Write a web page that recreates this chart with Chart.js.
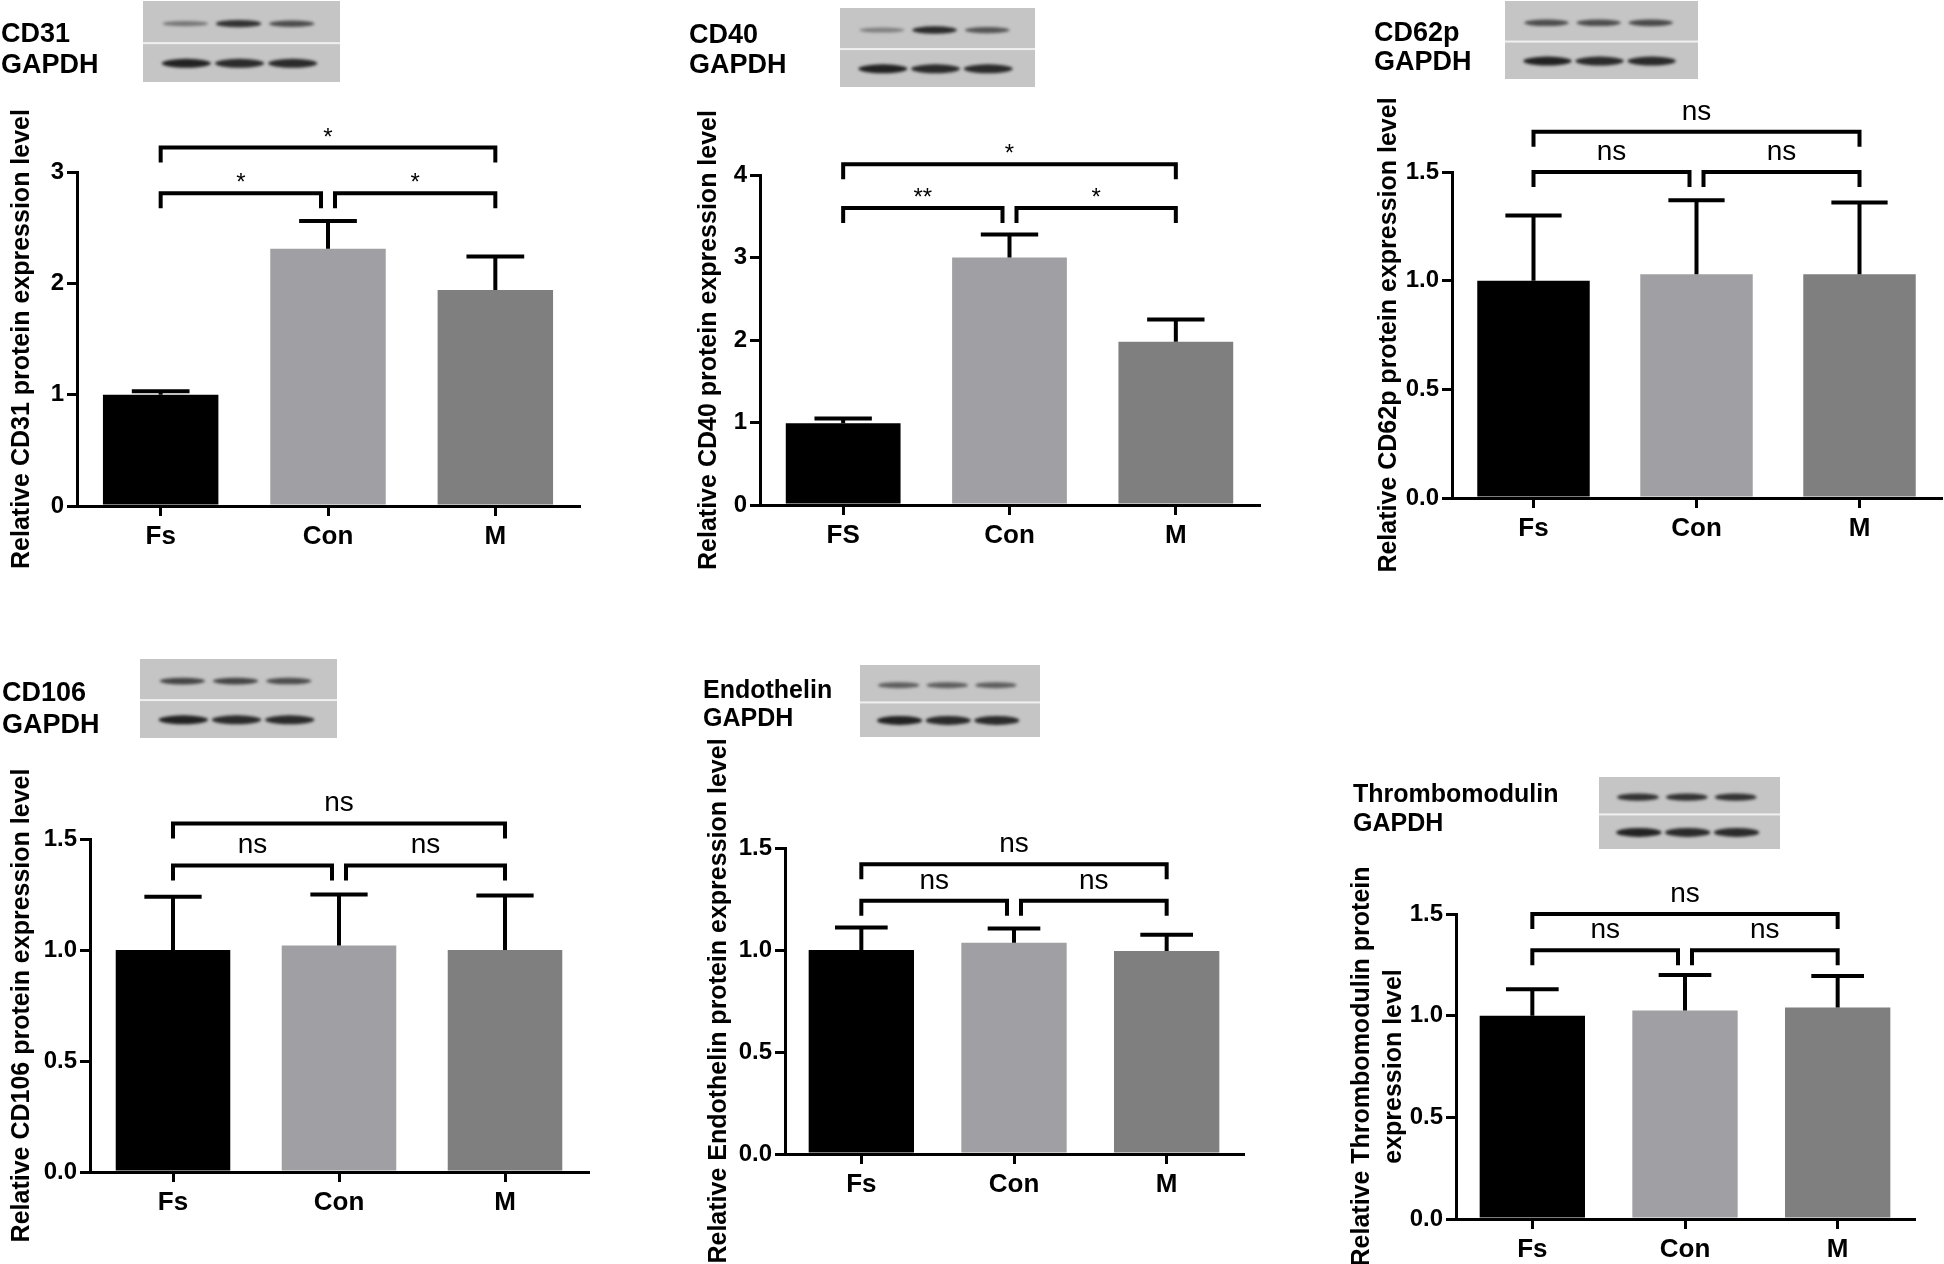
<!DOCTYPE html>
<html>
<head>
<meta charset="utf-8">
<script src="https://cdn.jsdelivr.net/npm/chart.js@4.4.1/dist/chart.umd.min.js"></script>
<style>
html, body { margin: 0; padding: 0; background: #fff; }
body { position: relative; width: 1944px; height: 1264px; overflow: hidden; }
canvas { position: absolute; }
</style>
</head>
<body>
<canvas id="c1" width="650" height="640" style="left:0px;top:0px"></canvas>
<canvas id="c2" width="640" height="640" style="left:660px;top:0px"></canvas>
<canvas id="c3" width="614" height="640" style="left:1330px;top:0px"></canvas>
<canvas id="c4" width="650" height="624" style="left:0px;top:640px"></canvas>
<canvas id="c5" width="640" height="624" style="left:660px;top:640px"></canvas>
<canvas id="c6" width="614" height="624" style="left:1330px;top:640px"></canvas>
<script>
// groups
const groups = ['Fs', 'Con', 'M'];
const groupsCd40 = ['FS', 'Con', 'M'];
const barColors = ['#000000', '#a0a0a4', '#7f7f7f'];

// mean + SEM (relative expression)
const cd31Mean = [1.00, 2.31, 1.94];
const cd31Sem = [0.03, 0.25, 0.30];
const cd40Mean = [0.99, 3.00, 1.98];
const cd40Sem = [0.06, 0.28, 0.27];
const cd62pMean = [1.00, 1.03, 1.03];
const cd62pSem = [0.30, 0.34, 0.33];
const cd106Mean = [1.00, 1.02, 1.00];
const cd106Sem = [0.24, 0.23, 0.245];
const endoMean = [1.00, 1.035, 0.995];
const endoSem = [0.11, 0.07, 0.08];
const thromboMean = [1.00, 1.025, 1.04];
const thromboSem = [0.13, 0.175, 0.155];

// y tick labels
const ticksInt3 = ['0', '1', '2', '3'];
const ticksInt4 = ['0', '1', '2', '3', '4'];
const ticksHalf = ['0.0', '0.5', '1.0', '1.5'];

// significance brackets: [from, to, level, label]
const cd31Sig = [[0, 2, 3.22, '*'], [0, 1, 2.81, '*'], [1, 2, 2.81, '*']];
const cd40Sig = [[0, 2, 4.13, '*'], [0, 1, 3.60, '**'], [1, 2, 3.60, '*']];
const cd62pSig = [[0, 2, 1.685, 'ns'], [0, 1, 1.50, 'ns'], [1, 2, 1.50, 'ns']];
const cd106Sig = [[0, 2, 1.57, 'ns'], [0, 1, 1.381, 'ns'], [1, 2, 1.381, 'ns']];
const endoSig = [[0, 2, 1.42, 'ns'], [0, 1, 1.241, 'ns'], [1, 2, 1.241, 'ns']];
const thromboSig = [[0, 2, 1.50, 'ns'], [0, 1, 1.322, 'ns'], [1, 2, 1.322, 'ns']];

// blot band darkness per lane (target protein / GAPDH)
const cd31Blot = [0.45, 0.85, 0.7];
const cd40Blot = [0.4, 0.9, 0.65];
const cd62pBlot = [0.7, 0.7, 0.72];
const cd106Blot = [0.75, 0.75, 0.7];
const endoBlot = [0.6, 0.6, 0.6];
const thromboBlot = [0.85, 0.85, 0.85];
const gapdhBlot = [0.95, 0.9, 0.9];

const FONT = "'Liberation Sans', Arial, Helvetica, sans-serif";
Chart.defaults.color = '#000';

const panels = [
  { id: 'c1', labels: groups, mean: cd31Mean, sem: cd31Sem, sig: cd31Sig, max: 3, step: 1, yTicks: ticksInt3,
    axisX: 77, right: 579, top: 172, bottom: 506, titlePad: 6,
    yTitle: 'Relative CD31 protein expression level',
    name: 'CD31', nameX: 1, nameY: 42, gapY: 73, nameSize: 27,
    blot: { x: 143, y: 1, w: 197, h: 81, top: cd31Blot } },
  { id: 'c2', labels: groupsCd40, mean: cd40Mean, sem: cd40Sem, sig: cd40Sig, max: 4, step: 1, yTicks: ticksInt4,
    axisX: 100, right: 599, top: 175, bottom: 505, titlePad: 33,
    yTitle: 'Relative CD40 protein expression level',
    name: 'CD40', nameX: 29, nameY: 43, gapY: 73, nameSize: 27,
    blot: { x: 180, y: 8, w: 195, h: 79, top: cd40Blot } },
  { id: 'c3', labels: groups, mean: cd62pMean, sem: cd62pSem, sig: cd62pSig, max: 1.5, step: 0.5, yTicks: ticksHalf,
    axisX: 122, right: 611, top: 172, bottom: 498, titlePad: 43,
    yTitle: 'Relative CD62p protein expression level',
    name: 'CD62p', nameX: 44, nameY: 41, gapY: 70, nameSize: 27,
    blot: { x: 175, y: 1, w: 193, h: 78, top: cd62pBlot } },
  { id: 'c4', labels: groups, mean: cd106Mean, sem: cd106Sem, sig: cd106Sig, max: 1.5, step: 0.5, yTicks: ticksHalf,
    axisX: 90, right: 588, top: 199, bottom: 532, titlePad: 6,
    yTitle: 'Relative CD106 protein expression level',
    name: 'CD106', nameX: 2, nameY: 61, gapY: 93, nameSize: 27,
    blot: { x: 140, y: 19, w: 197, h: 79, top: cd106Blot } },
  { id: 'c5', labels: groups, mean: endoMean, sem: endoSem, sig: endoSig, max: 1.5, step: 0.5, yTicks: ticksHalf,
    axisX: 125, right: 583, top: 208, bottom: 514, titlePad: 43,
    yTitle: 'Relative Endothelin protein expression level',
    name: 'Endothelin', nameX: 43, nameY: 58, gapY: 86, nameSize: 25,
    blot: { x: 200, y: 25, w: 180, h: 72, top: endoBlot } },
  { id: 'c6', labels: groups, mean: thromboMean, sem: thromboSem, sig: thromboSig, max: 1.5, step: 0.5, yTicks: ticksHalf,
    axisX: 126, right: 584, top: 274, bottom: 579, titlePad: 16,
    yTitle: ['Relative Thrombomodulin protein', 'expression level'],
    name: 'Thrombomodulin', nameX: 23, nameY: 162, gapY: 191, nameSize: 25,
    blot: { x: 269, y: 137, w: 181, h: 72, top: thromboBlot } }
];

function band(ctx, cx, cy, rx, ry, k) {
  ctx.fillStyle = 'rgba(25,25,25,' + k + ')';
  ctx.beginPath();
  ctx.ellipse(cx, cy, rx, ry, 0, 0, Math.PI * 2);
  ctx.fill();
}

function drawBlot(ctx, b) {
  ctx.save();
  ctx.fillStyle = '#c5c5c5';
  ctx.fillRect(b.x, b.y, b.w, b.h);
  const split = b.y + b.h * 0.52;
  ctx.fillStyle = '#f0f0f0';
  ctx.fillRect(b.x, split - 1, b.w, 2);
  ctx.filter = 'blur(1.5px)';
  const lanes = [0.10, 0.37, 0.64];
  b.top.forEach((k, i) => band(ctx, b.x + b.w * (lanes[i] + 0.115), b.y + b.h * 0.28, b.w * 0.115, 1.5 + 2.5 * k, k));
  gapdhBlot.forEach((k, i) => band(ctx, b.x + b.w * (lanes[i] + 0.12), b.y + b.h * 0.77, b.w * 0.125, 4.5, k));
  ctx.restore();
}

function overlay(p) {
  return {
    id: 'overlay_' + p.id,
    afterDraw(chart) {
      const ctx = chart.ctx;
      const xs = chart.scales.x, ys = chart.scales.y;
      const meta = chart.getDatasetMeta(0);
      ctx.save();
      ctx.strokeStyle = '#000';
      ctx.lineWidth = 4;
      ctx.lineCap = 'butt';
      // error bars (upper only)
      meta.data.forEach((bar, i) => {
        const yTop = ys.getPixelForValue(p.mean[i] + p.sem[i]);
        const half = bar.width / 4;
        ctx.beginPath();
        ctx.moveTo(bar.x, bar.y);
        ctx.lineTo(bar.x, yTop);
        ctx.moveTo(bar.x - half, yTop);
        ctx.lineTo(bar.x + half, yTop);
        ctx.stroke();
      });
      // brackets
      const tip = 15, gap = 7;
      ctx.lineJoin = 'miter';
      ctx.textAlign = 'center';
      ctx.fillStyle = '#000';
      p.sig.forEach(([a, b, level, text]) => {
        let xa = xs.getPixelForValue(a), xb = xs.getPixelForValue(b);
        if (b - a === 1) {
          if (a === 1) xa += gap;
          if (b === 1) xb -= gap;
        }
        const y = ys.getPixelForValue(level);
        ctx.beginPath();
        ctx.moveTo(xa, y + tip);
        ctx.lineTo(xa, y);
        ctx.lineTo(xb, y);
        ctx.lineTo(xb, y + tip);
        ctx.stroke();
        if (text === 'ns') {
          ctx.font = '28px ' + FONT;
          ctx.fillText(text, (xa + xb) / 2, y - 12);
        } else {
          ctx.font = '24px ' + FONT;
          ctx.fillText(text, (xa + xb) / 2, y - 3);
        }
      });
      // western blot + labels
      drawBlot(ctx, p.blot);
      ctx.textAlign = 'left';
      ctx.font = 'bold ' + p.nameSize + 'px ' + FONT;
      ctx.fillText(p.name, p.nameX, p.nameY);
      ctx.fillText('GAPDH', p.nameX, p.gapY);
      ctx.restore();
    }
  };
}

function makePanel(p) {
  const canvas = document.getElementById(p.id);
  return new Chart(canvas, {
    type: 'bar',
    data: {
      labels: p.labels,
      datasets: [{
        data: p.mean,
        backgroundColor: barColors,
        borderWidth: 0,
        barPercentage: 0.69,
        categoryPercentage: 1
      }]
    },
    options: {
      responsive: false,
      animation: false,
      events: [],
      layout: { padding: { top: p.top, right: canvas.width - p.right, left: 0, bottom: 0 } },
      plugins: { legend: { display: false }, tooltip: { enabled: false } },
      scales: {
        x: {
          border: { color: '#000', width: 3 },
          grid: { drawOnChartArea: false, offset: false, tickLength: 10, lineWidth: 3, color: '#000' },
          ticks: { color: '#000', padding: 5, font: { family: FONT, size: 26, weight: 'bold' } },
          afterFit: s => { s.height = canvas.height - p.bottom; }
        },
        y: {
          min: 0,
          max: p.max,
          border: { color: '#000', width: 3 },
          grid: { drawOnChartArea: false, tickLength: 10, lineWidth: 3, color: '#000' },
          ticks: {
            stepSize: p.step, color: '#000', padding: 3,
            font: { family: FONT, size: 24, weight: 'bold' },
            callback: (v, i) => p.yTicks[i]
          },
          title: {
            display: true, text: p.yTitle, color: '#000',
            font: { family: FONT, size: 25, weight: 'bold', lineHeight: 1.28 },
            padding: { top: p.titlePad, bottom: 0 }
          },
          afterFit: s => { s.width = p.axisX; }
        }
      }
    },
    plugins: [overlay(p)]
  });
}

panels.forEach(makePanel);
</script>
</body>
</html>
